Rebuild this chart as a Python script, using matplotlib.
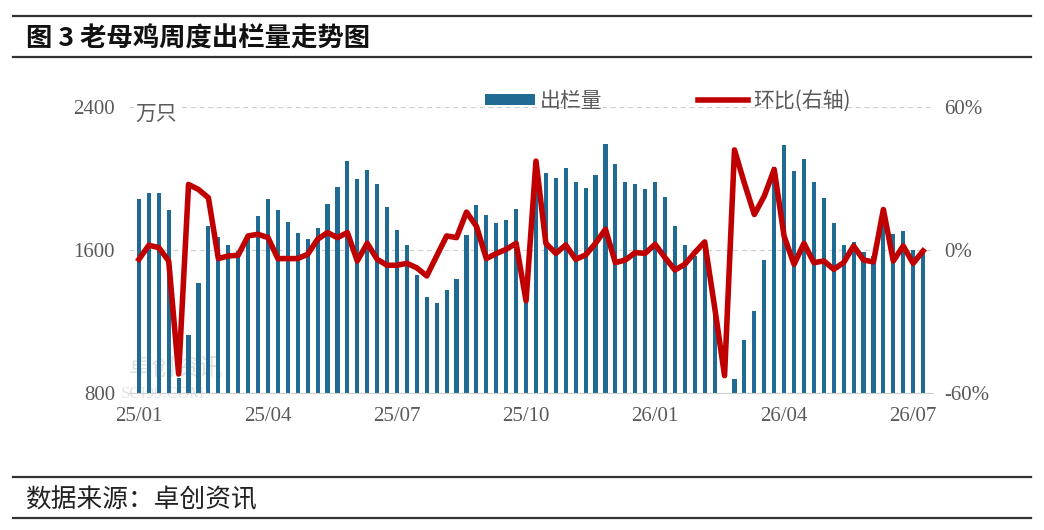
import numpy as np
import matplotlib.pyplot as plt
from matplotlib.lines import Line2D

plt.rcParams['font.family'] = ['Noto Sans CJK SC', 'DejaVu Sans']

# weekly slaughter of culled hens (10k birds), 2025/01 - 2026/07
volume = [1887, 1919, 1919, 1826, 886, 1123, 1417, 1734, 1671, 1630,
          1594, 1688, 1790, 1887, 1826, 1757, 1697, 1663, 1725, 1859,
          1954, 2100, 1999, 2049, 1971, 1842, 1714, 1630, 1460, 1339,
          1305, 1374, 1440, 1682, 1853, 1794, 1749, 1768, 1827, 1420,
          1975, 2032, 2004, 2057, 1980, 1945, 2021, 2195, 2083, 1980,
          1971, 1939, 1980, 1896, 1734, 1630, 1566, 1618, 1262, 600,
          880, 1097, 1259, 1544, 2066, 2185, 2042, 2111, 1980, 1893,
          1749, 1630, 1645, 1591, 1566, 1832, 1688, 1706, 1600, 1591]

# week-on-week change, %
wow = [-3.9, 2.0, 1.0, -4.6, -52.0, 27.5, 25.4, 21.9, -3.6, -2.5,
       -2.2, 5.9, 6.6, 5.2, -3.6, -3.6, -3.6, -1.8, 4.5, 7.3,
       5.2, 7.3, -4.6, 2.8, -3.9, -6.4, -6.4, -5.6, -7.5, -10.9,
       -2.5, 5.9, 5.2, 15.9, 10.0, -3.6, -1.5, 0.3, 2.8, -21.3,
       37.3, 2.8, -1.4, 2.1, -3.9, -2.1, 2.8, 8.7, -5.3, -4.2,
       -1.1, -1.4, 2.4, -3.2, -8.4, -6.0, -1.1, 3.4, -24.0, -52.7,
       42.0, 28.0, 14.9, 22.6, 33.8, 5.8, -6.0, 2.8, -5.3, -4.6,
       -8.1, -5.3, 1.7, -4.2, -5.0, 17.0, -4.6, 1.7, -5.6, -0.4]

tick_labels = ['25/01', '25/04', '25/07', '25/10', '26/01', '26/04', '26/07']
left_ticks = [800, 1600, 2400]
right_ticks = [-60, 0, 60]

bar_color = '#1f6b93'
line_color = '#c00000'
txt_color = '#595959'

W, H = 1044, 530
fig = plt.figure(figsize=(W / 100, H / 100), dpi=100)

# header / footer rules and texts
for yy in [15.5, 57, 477, 518]:
    fig.add_artist(Line2D([13 / W, 1031 / W], [1 - yy / H] * 2,
                          color='#333333', lw=1.6))
fig.text(26 / W, 1 - 39 / H, '图 3 老母鸡周度出栏量走势图', fontsize=19,
         fontweight='bold', color='#111111', va='center', ha='left')
fig.text(25 / W, 1 - 500 / H, '数据来源：卓创资讯', fontsize=18.5,
         color='#222222', va='center', ha='left')

ax = fig.add_axes([129 / W, 1 - 393 / H, 804 / W, 286 / H])
x = np.arange(len(volume))
ax.bar(x, volume, width=0.42, color=bar_color, zorder=2, label='出栏量')
ax.set_xlim(-1, len(volume))
ax.set_ylim(800, 2400)
ax.set_yticks(left_ticks)
ax.set_yticklabels([str(v) for v in left_ticks], family=['Liberation Serif'])
ax.set_xticks(np.arange(0, len(volume), 13))
ax.set_xticklabels(tick_labels, family=['Liberation Serif'])
ax.tick_params(axis='both', length=0, labelsize=15, colors=txt_color)
ax.tick_params(axis='x', pad=10)
ax.tick_params(axis='y', pad=10)
for s in ['top', 'left', 'right']:
    ax.spines[s].set_visible(False)
ax.spines['bottom'].set_color('#d0d0d0')
ax.grid(axis='y', linestyle=(0, (4, 3)), color='#d0d0d0', lw=0.9, zorder=0)
ax.set_axisbelow(True)

ax.text(0.008, 0.975, '万只', transform=ax.transAxes, fontsize=15,
        color=txt_color, va='center', ha='left', zorder=5,
        bbox=dict(facecolor='white', edgecolor='none', pad=1))

# watermark
ax.text(0.0, 0.085, '卓创资讯', transform=ax.transAxes, fontsize=17,
        color='#d8d8d8', alpha=0.8, va='center', ha='left', zorder=1)
ax.text(-0.01, -0.005, 'SCI99.COM', transform=ax.transAxes, fontsize=12,
        color='#dcdcdc', alpha=0.8, va='center', ha='left', zorder=1,
        family=['Liberation Serif'])

ax2 = ax.twinx()
ax2.plot(x, wow, color=line_color, lw=4, solid_joinstyle='round', zorder=3,
         label='环比(右轴)')
ax2.set_ylim(-60, 60)
ax2.set_yticks(right_ticks)
ax2.set_yticklabels([f'{v}%' for v in right_ticks], family=['Liberation Serif'])
ax2.tick_params(axis='y', length=0, labelsize=15, colors=txt_color, pad=8)
for s in ['top', 'left', 'right', 'bottom']:
    ax2.spines[s].set_visible(False)

h1, l1 = ax.get_legend_handles_labels()
h2, l2 = ax2.get_legend_handles_labels()
leg = fig.legend(h1 + h2, l1 + l2, loc='center', ncol=2, frameon=False,
                 bbox_to_anchor=(668 / W, 1 - 101 / H), fontsize=15,
                 handlelength=2.4, handleheight=0.45, handletextpad=0.25,
                 columnspacing=4.6)
for t in leg.get_texts():
    t.set_color(txt_color)

fig.savefig('out.png', dpi=100)
